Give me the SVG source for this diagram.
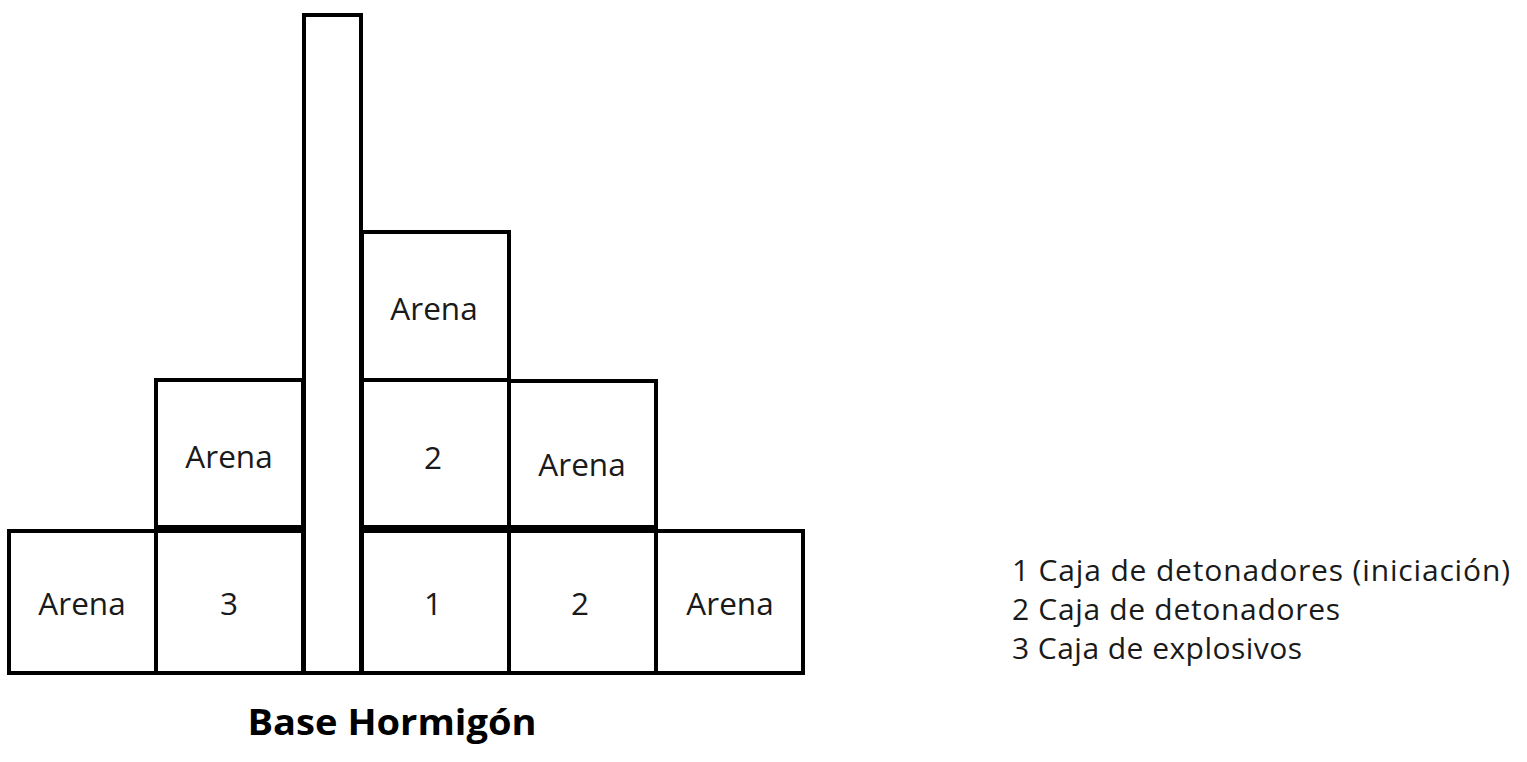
<svg xmlns="http://www.w3.org/2000/svg" width="1527" height="762" viewBox="0 0 1527 762">
<style>
.box{fill:none;stroke:#000;stroke-width:4;stroke-linejoin:miter}
.lbl{font-family:"Open Sans","Noto Sans",sans-serif;font-size:31.5px;fill:#1a1a1a;text-anchor:middle}
.leg{font-family:"Open Sans","Noto Sans",sans-serif;font-size:30px;fill:#1a1a1a}
.title{font-family:"Open Sans","Noto Sans",sans-serif;font-size:36px;font-weight:bold;fill:#000;text-anchor:middle}
</style>
<rect width="1527" height="762" fill="#fff"/>
<g id="column"><rect class="box" x="304" y="15" width="57" height="658"/></g>
<g id="top-arena"><rect class="box" x="362" y="232" width="147" height="148"/><text class="lbl" x="434" y="320">Arena</text></g>
<g id="mid-left-arena"><rect class="box" x="156" y="380" width="147" height="147"/><text class="lbl" x="229" y="468">Arena</text></g>
<g id="mid-2"><rect class="box" x="362" y="380" width="147" height="147"/><text class="lbl" x="433" y="469">2</text></g>
<g id="mid-right-arena"><rect class="box" x="509" y="381" width="147" height="146"/><text class="lbl" x="582" y="476">Arena</text></g>
<g id="bot-arena-left"><rect class="box" x="9" y="531" width="147" height="142"/><text class="lbl" x="82" y="615">Arena</text></g>
<g id="bot-3"><rect class="box" x="156" y="531" width="147" height="142"/><text class="lbl" x="229" y="615">3</text></g>
<g id="bot-1"><rect class="box" x="362" y="531" width="147" height="142"/><text class="lbl" x="433" y="615">1</text></g>
<g id="bot-2"><rect class="box" x="509" y="531" width="147" height="142"/><text class="lbl" x="580" y="615">2</text></g>
<g id="bot-arena-right"><rect class="box" x="656" y="531" width="147" height="142"/><text class="lbl" x="730" y="615">Arena</text></g>
<g id="connectors"></g>
<g id="legend">
<text class="leg" x="1012" y="581" textLength="498" lengthAdjust="spacing">1 Caja de detonadores (iniciación)</text>
<text class="leg" x="1012" y="620" textLength="328" lengthAdjust="spacing">2 Caja de detonadores</text>
<text class="leg" x="1012" y="659" textLength="290" lengthAdjust="spacing">3 Caja de explosivos</text>
</g>
<text class="title" x="392" y="735" textLength="289" lengthAdjust="spacingAndGlyphs">Base Hormigón</text>
</svg>
